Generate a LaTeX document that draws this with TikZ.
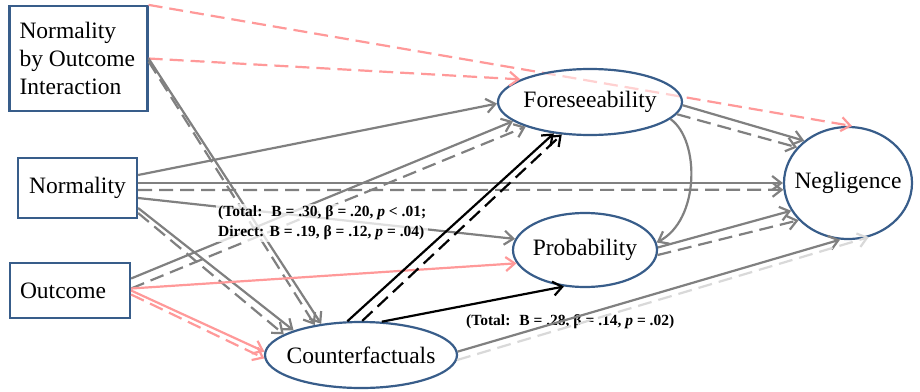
\documentclass[tikz,border=0pt]{standalone}
\usepackage{fontspec}
\setmainfont{Liberation Serif}
\usetikzlibrary{arrows.meta,calc,shapes.geometric}
\definecolor{bx}{RGB}{56,93,138}
\definecolor{ln}{RGB}{128,128,128}
\definecolor{pk}{RGB}{255,153,153}
\definecolor{lgc}{RGB}{217,217,217}
\newcommand{\zw}[1]{\makebox[0pt]{#1}}
\begin{document}
\begin{tikzpicture}[x=1pt,y=-1pt,
  boxnode/.style={draw=bx, line width=2.2pt, fill=white, font=\fontsize{23.5}{28}\selectfont, inner sep=0pt},
  ellnode/.style={ellipse, draw=bx, line width=2.2pt, fill=white, font=\fontsize{23.5}{28}\selectfont, inner sep=0pt},
  arr/.style={-{Straight Barb[length=9pt,width=14pt]}},
  gl/.style={draw=ln, line width=2.2pt, arr},
  pl/.style={draw=pk, line width=2.2pt, arr},
  bl/.style={draw=black, line width=2.2pt, arr},
  lgl/.style={draw=lgc, line width=2.2pt, arr},
  dsh/.style={dash pattern=on 14pt off 7pt},
  lab/.style={font=\bfseries\fontsize{15.5}{20}\selectfont, inner sep=2pt}
]
\useasboundingbox (0,0) rectangle (920,391);
\fill[white] (0,0) rectangle (920,391);

% boxes
\node[boxnode, minimum width=137pt, minimum height=105pt, text width=122pt, align=flush left, inner xsep=8pt] (nxo) at (78.5,58.5) {\hspace*{2pt}Normality\\\hspace*{2pt}by Outcome\\\hspace*{2pt}Interaction};
\node[boxnode, minimum width=119pt, minimum height=60pt] (norm) at (77.5,188) {Normality};
\node[boxnode, minimum width=120pt, minimum height=55pt, text width=100pt, align=flush left, inner xsep=10pt] (outc) at (70,290.5) {Outcome};
\node[ellnode, minimum width=128pt, minimum height=112pt] (neg) at (848,183) {\zw{Negligence}};

% long pink line passing under Foreseeability
\draw[pl,dsh] (nxo.north east) -- (neg.86);

\node[ellnode, minimum width=184pt, minimum height=66pt, fill opacity=.55, text opacity=1] (fore) at (590,102) {\zw{Foreseeability}};
\node[ellnode, minimum width=144pt, minimum height=74pt] (prob) at (585,250) {\zw{Probability}};
\node[ellnode, minimum width=192pt, minimum height=66pt] (cf) at (361,355) {\zw{Counterfactuals}};

\node[lab, anchor=west] (l2) at (464,322) {(Total:~ B = .28, β = .14, \textit{p} = .02)};

% from interaction
\draw[pl,dsh] (nxo.east) -- (fore.162);
\draw[gl] (nxo.east) -- (cf.142);
\draw[gl,dsh] ($(nxo.east)+(0,3)$) -- (cf.147);

% from normality
\draw[gl] ($(norm.east)+(0,-13)$) -- (fore.181);
\draw[gl] ($(norm.east)+(0,-5)$) -- (neg.180);
\draw[gl,dsh] ($(norm.east)+(0,2)$) -- (neg.186);
\draw[gl] ($(norm.east)+(0,10)$) -- (prob.171);
\draw[gl] ($(norm.east)+(0,20)$) -- (cf.160);
\draw[gl,dsh] ($(norm.east)+(0,25)$) -- (cf.165);

% from outcome
\draw[gl] ($(outc.east)+(0,-12)$) -- (fore.194);
\draw[gl,dsh] ($(outc.east)+(0,-2)$) -- (fore.201);
\draw[pl] ($(outc.east)+(0,-2)$) -- (prob.191);
\draw[pl] (outc.east) -- (cf.178);
\draw[pl,dsh] ($(outc.east)+(0,4)$) -- (cf.182);

% from counterfactuals
\draw[bl] (cf.112) -- (fore.221);
\draw[bl,dsh] (cf.88) -- (fore.229);
\draw[bl] (cf.58) -- (prob.240);
\draw[gl] (cf.2) -- (neg.262);
\draw[lgl,dsh] (cf.357) -- (neg.291);

% foreseeability / probability to negligence
\draw[gl] (fore.358) -- (neg.136);
\draw[gl,dsh] (fore.352) -- (neg.145);
\draw[gl] (fore.348) .. controls (700,140) and (700,220) .. (prob.6);
\draw[gl] (prob.2) -- (neg.206);
\draw[gl,dsh] (prob.356) -- (neg.217);

\node[lab, anchor=west, fill=white, fill opacity=.75, text opacity=1, align=left] (l1) at (216,223) {(Total:~ B = .30, β = .20, \textit{p} < .01;\\Direct: B = .19, β = .12, \textit{p} = .04)};
\end{tikzpicture}
\end{document}
